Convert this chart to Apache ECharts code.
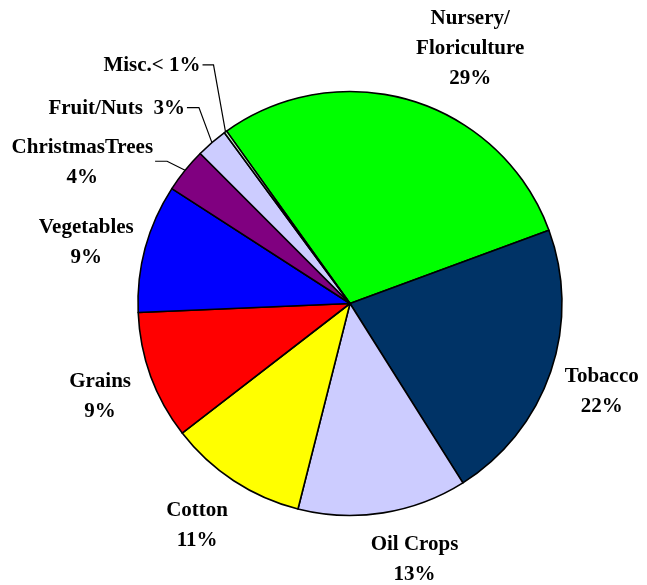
<!DOCTYPE html>
<html>
<head>
<meta charset="utf-8">
<script src="https://cdn.jsdelivr.net/npm/echarts@6/dist/echarts.min.js"></script>
<style>
  html, body { margin: 0; padding: 0; background: #ffffff; }
  #chart { width: 647px; height: 585px; }
</style>
</head>
<body>
<div id="chart"></div>
<script>
// Share of farm cash receipts by commodity
const categories = ['Nursery/\nFloriculture', 'Tobacco', 'Oil Crops', 'Cotton', 'Grains',
  'Vegetables', 'ChristmasTrees', 'Fruit/Nuts', 'Misc.'];
const shares = [29.3, 21.7, 12.9, 10.6, 9.8, 9.8, 3.4, 2.4, 0.2];
const shareLabels = ['29%', '22%', '13%', '11%', '9%', '9%', '4%', '3%', '< 1%'];
const colors = ['#00ff00', '#003366', '#ccccff', '#ffff00', '#ff0000',
  '#0000ff', '#800080', '#ccccff', '#ccffcc'];

// pie geometry
const CX = 350, CY = 303.5, R = 212;
const START = 125.6;
const LABEL_R = 266;

// small slices get a leader line, big ones sit free around the pie
const leader = { 6: { dx: -30, dy: -9, elbow: -12 }, 7: { dx: -25, dy: -35, elbow: -12 }, 8: { dx: -23, dy: -67, elbow: -11 } };
const labelShift = { 0: [42, -1], 2: [23, -7], 3: [-7, 0], 4: [0, 2], 5: [-7, 9], 1: [0, 2] };

const total = shares.reduce((a, b) => a + b, 0);
const midAngles = [];
let acc = 0;
shares.forEach(v => {
  const a0 = START - acc / total * 360;
  acc += v;
  const a1 = START - acc / total * 360;
  midAngles.push((a0 + a1) / 2 * Math.PI / 180);
});

function polar(r, a) {
  return [CX + r * Math.cos(a), CY - r * Math.sin(a)];
}

const data = shares.map((v, i) => ({
  name: categories[i],
  value: v,
  itemStyle: { color: colors[i] },
  labelLine: { show: !!leader[i] }
}));

const chart = echarts.init(document.getElementById('chart'), null, { renderer: 'canvas' });

chart.setOption({
  backgroundColor: '#ffffff',
  animation: false,
  series: [{
    type: 'pie',
    center: [CX, CY],
    radius: R,
    startAngle: START,
    clockwise: true,
    avoidLabelOverlap: false,
    minAngle: 0,
    data: data,
    itemStyle: { borderColor: '#000000', borderWidth: 1.6 },
    emphasis: { disabled: true },
    label: {
      show: true,
      position: 'outside',
      color: '#000000',
      fontFamily: 'Liberation Serif',
      fontWeight: 'bold',
      fontSize: 21,
      lineHeight: 30,
      align: 'center',
      formatter: p => {
        const i = p.dataIndex;
        if (i === 7) return p.name + '  ' + shareLabels[i];
        if (i === 8) return p.name + shareLabels[i];
        return p.name + '\n' + shareLabels[i];
      }
    },
    labelLine: {
      length: 20,
      length2: 10,
      lineStyle: { color: '#000000', width: 1.2 }
    },
    labelLayout: params => {
      const i = params.dataIndex;
      const a = midAngles[i];
      if (leader[i]) {
        const L = leader[i];
        const edge = polar(R, a);
        const endX = edge[0] + L.dx;
        const y = edge[1] + L.dy;
        const w = params.labelRect.width;
        return {
          x: endX - 2 - w / 2,
          y: y + 1,
          align: 'center',
          verticalAlign: 'middle',
          labelLinePoints: [edge, [edge[0] + L.dx - L.elbow, y], [endX, y]]
        };
      }
      const p = polar(LABEL_R, a);
      const s = labelShift[i] || [0, 0];
      return {
        x: p[0] + s[0],
        y: p[1] + s[1],
        align: 'center',
        verticalAlign: 'middle'
      };
    }
  }]
});
</script>
</body>
</html>
